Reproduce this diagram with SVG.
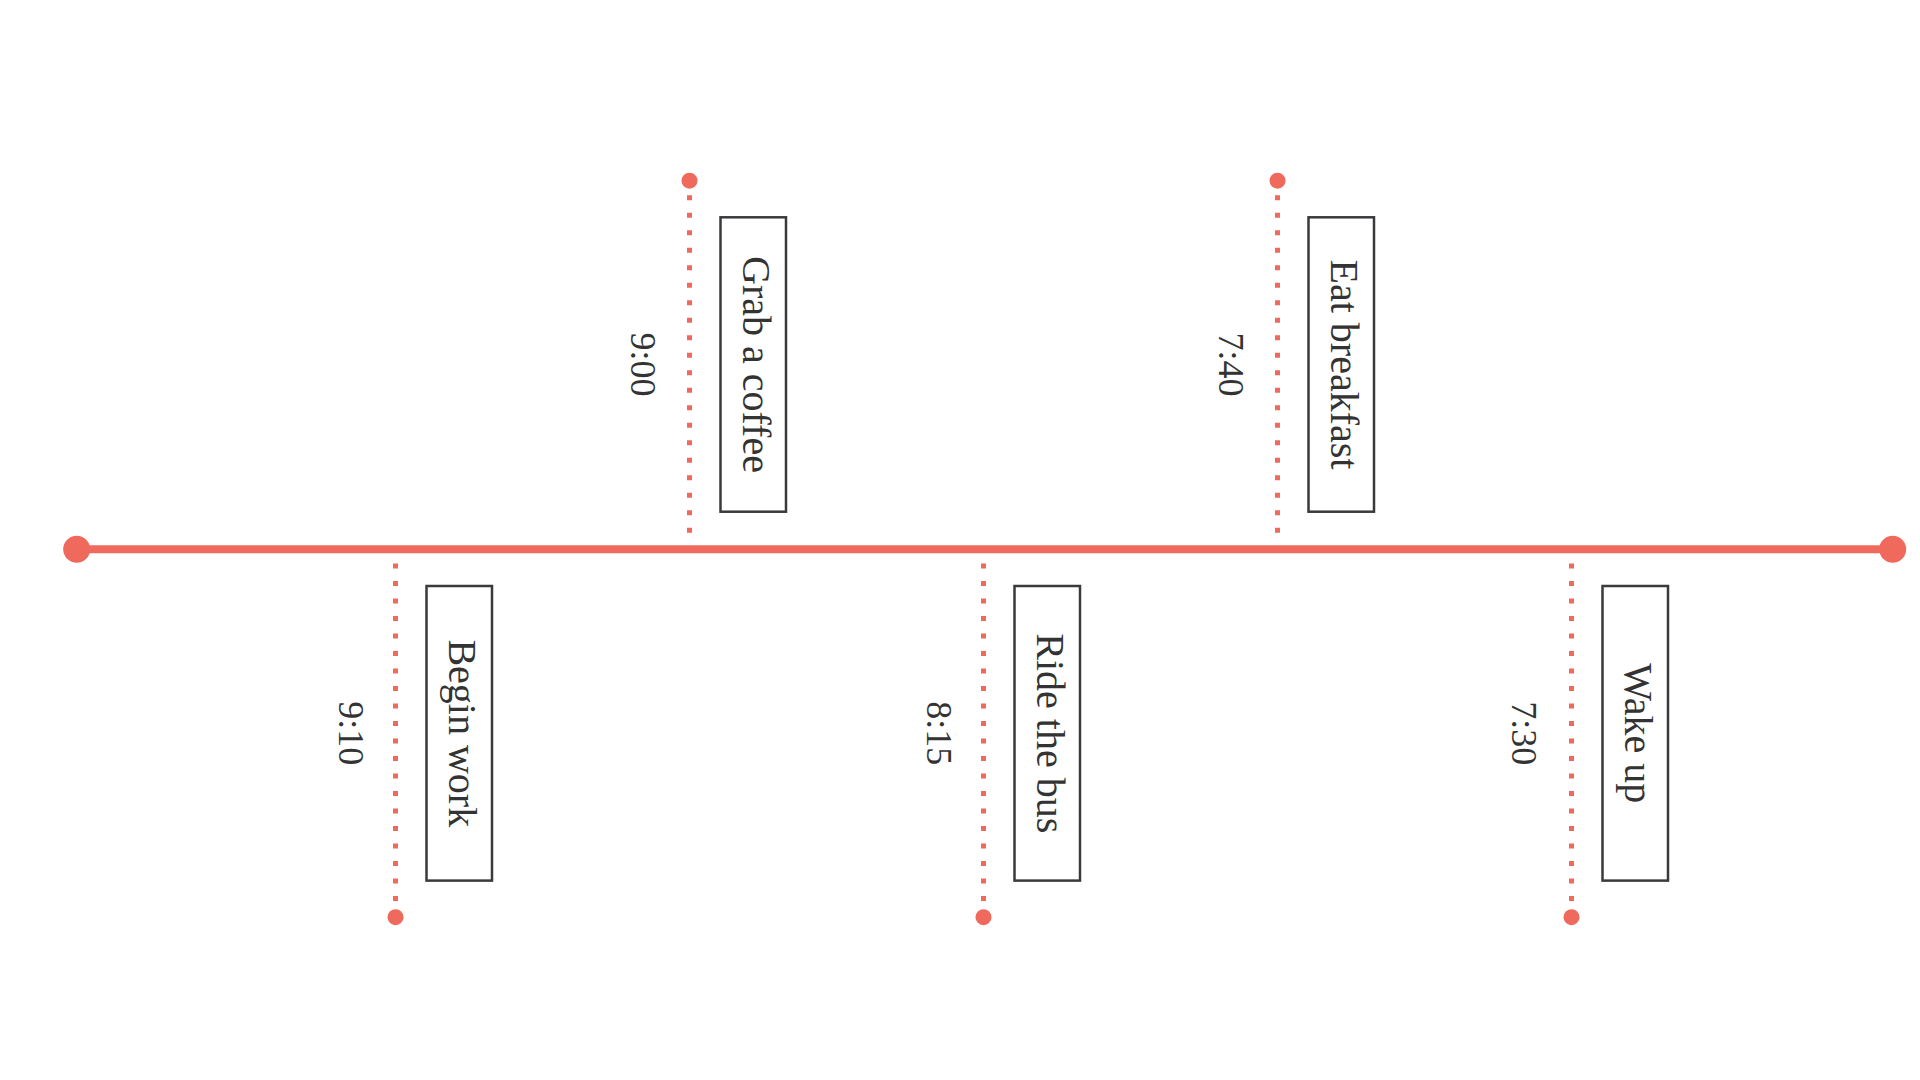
<svg xmlns="http://www.w3.org/2000/svg" width="1920" height="1080" viewBox="0 0 1920 1080">
<style>
.axis{stroke:#ef6a5c;stroke-width:8;fill:none}
.end{fill:#ef6a5c}
.stem{stroke:#ef6a5c;stroke-width:5;stroke-dasharray:5 12.5;fill:none}
.dot{fill:#ef6a5c}
.box{fill:#fff;stroke:#3a3a3c;stroke-width:2.5}
.lbl{font-family:"Liberation Serif","Times New Roman",serif;font-size:40px;fill:#333;text-anchor:middle}
.time{font-family:"Liberation Serif","Times New Roman",serif;font-size:36px;fill:#333;text-anchor:middle}
</style>
<rect width="1920" height="1080" fill="#fff"/>
<g id="connectors">
<line class="axis" x1="76.7" y1="549.3" x2="1892.7" y2="549.3"/>
<circle class="end" cx="76.7" cy="549.3" r="13.5"/>
<circle class="end" cx="1892.7" cy="549.3" r="13.5"/>
<line class="stem" x1="689.5" y1="195.2" x2="689.5" y2="534"/>
<circle class="dot" cx="689.5" cy="180.7" r="8"/>
<line class="stem" x1="1277.5" y1="195.2" x2="1277.5" y2="534"/>
<circle class="dot" cx="1277.5" cy="180.7" r="8"/>
<line class="stem" x1="395.5" y1="563.5" x2="395.5" y2="903"/>
<circle class="dot" cx="395.5" cy="917.2" r="8"/>
<line class="stem" x1="983.5" y1="563.5" x2="983.5" y2="903"/>
<circle class="dot" cx="983.5" cy="917.2" r="8"/>
<line class="stem" x1="1571.5" y1="563.5" x2="1571.5" y2="903"/>
<circle class="dot" cx="1571.5" cy="917.2" r="8"/>
</g>
<g id="coffee">
<rect class="box" x="720.5" y="217.3" width="65.5" height="294.4"/>
<text class="lbl" transform="translate(742.5,364.5) rotate(90)">Grab a coffee</text>
<text class="time" transform="translate(630.5,364.5) rotate(90)">9:00</text>
</g>
<g id="breakfast">
<rect class="box" x="1308.5" y="217.3" width="65.5" height="294.4"/>
<text class="lbl" transform="translate(1330.5,364.5) rotate(90)">Eat breakfast</text>
<text class="time" transform="translate(1218.5,364.5) rotate(90)">7:40</text>
</g>
<g id="work">
<rect class="box" x="426.5" y="586" width="65.5" height="294.6"/>
<text class="lbl" transform="translate(448.5,733.3) rotate(90)">Begin work</text>
<text class="time" transform="translate(338.5,733.3) rotate(90)">9:10</text>
</g>
<g id="bus">
<rect class="box" x="1014.5" y="586" width="65.5" height="294.6"/>
<text class="lbl" transform="translate(1036.5,733.3) rotate(90)">Ride the bus</text>
<text class="time" transform="translate(926.5,733.3) rotate(90)">8:15</text>
</g>
<g id="wake">
<rect class="box" x="1602.5" y="586" width="65.5" height="294.6"/>
<text class="lbl" transform="translate(1624.5,733.3) rotate(90)">Wake up</text>
<text class="time" transform="translate(1512,733.3) rotate(90)">7:30</text>
</g>
</svg>
